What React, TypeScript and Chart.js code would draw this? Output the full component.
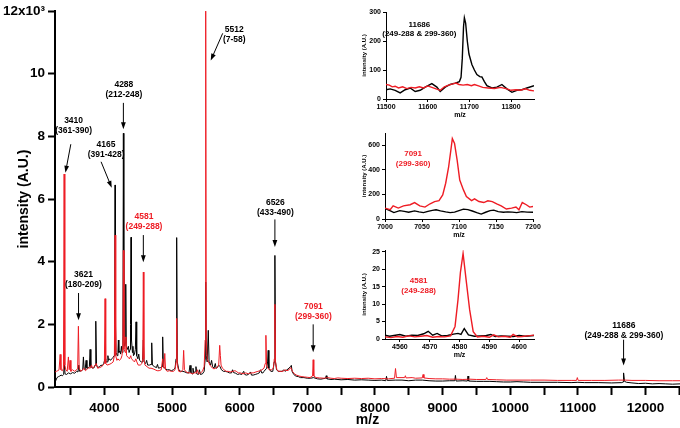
import React, { useEffect, useRef } from 'react';
import { Chart, registerables } from 'chart.js';
Chart.register(...registerables);

const RED = '#ee1c24';
const FONT = '"Liberation Sans", Arial, Helvetica, sans-serif';

// ---------- main spectrum (m/z, intensity x10^3) ----------
const blackTrace: [number, number][] = [
  [3270, 0.15], [3285, 0.22], [3300, 0.3], [3320, 0.33], [3340, 0.35], [3360, 0.38], [3380, 0.36], [3398, 0.4], [3408, 0.8], [3418, 0.42],
  [3440, 0.4], [3470, 0.45], [3500, 0.42], [3530, 0.46], [3560, 0.44], [3590, 0.5], [3610, 0.48], [3622, 0.7], [3634, 0.5], [3660, 0.52],
  [3680, 0.55], [3690, 0.96], [3700, 0.6], [3715, 0.55], [3730, 0.85], [3742, 0.6], [3760, 0.6], [3778, 0.65], [3789, 1.2], [3800, 0.65],
  [3830, 0.6], [3850, 0.62], [3862, 0.7], [3873, 2.1], [3884, 0.7], [3900, 0.62], [3930, 0.65], [3950, 0.7], [3970, 0.68], [3990, 0.75],
  [4010, 0.9], [4020, 0.8], [4040, 0.8], [4052, 1.0], [4060, 0.85], [4075, 0.9], [4090, 0.85], [4110, 0.9], [4130, 0.95], [4145, 1.0], [4152, 2.0],
  [4158, 6.45], [4164, 2.0], [4172, 1.1], [4190, 1.0], [4200, 1.1], [4207, 1.5], [4214, 1.1], [4230, 1.15], [4240, 1.05], [4252, 1.3], [4262, 1.1], [4274, 1.6],
  [4281, 8.1], [4288, 1.6], [4300, 1.3], [4310, 1.4], [4316, 3.28], [4323, 1.3], [4340, 1.2], [4355, 1.3], [4365, 1.1], [4380, 1.2],
  [4386, 2.0], [4394, 4.78], [4401, 1.5], [4415, 1.1], [4422, 1.3], [4430, 1.0], [4445, 1.05], [4458, 1.2], [4468, 2.08], [4478, 1.0], [4495, 0.9],
  [4508, 1.05], [4520, 0.85], [4545, 0.8], [4565, 0.8], [4576, 1.5], [4586, 0.8], [4610, 0.75], [4625, 0.85], [4640, 0.7], [4665, 0.7], [4690, 0.72], [4700, 1.41],
  [4710, 0.7], [4740, 0.65], [4770, 0.62], [4785, 0.72], [4800, 0.6], [4830, 0.62], [4852, 0.65], [4862, 1.6], [4872, 0.65], [4900, 0.58], [4930, 0.55],
  [4960, 0.55], [4990, 0.52], [5020, 0.55], [5045, 0.6], [5060, 0.9], [5069, 4.77], [5078, 0.8], [5100, 0.55], [5130, 0.5], [5160, 0.5],
  [5190, 0.48], [5220, 0.45], [5250, 0.45], [5266, 0.69], [5280, 0.45], [5300, 0.42], [5310, 0.6], [5320, 0.45], [5345, 0.5], [5354, 0.65], [5365, 0.42],
  [5390, 0.4], [5405, 0.55], [5420, 0.4], [5450, 0.42], [5475, 0.5], [5490, 0.9], [5498, 3.35], [5506, 1.0], [5520, 0.8], [5536, 1.81], [5548, 0.8],
  [5570, 0.7], [5585, 0.85], [5600, 0.65], [5620, 0.6], [5640, 0.75], [5652, 0.6], [5670, 0.62], [5690, 0.7], [5710, 0.65], [5730, 0.55], [5760, 0.5],
  [5790, 0.5], [5820, 0.48], [5850, 0.45], [5880, 0.45], [5895, 0.55], [5910, 0.46], [5940, 0.44], [5970, 0.4], [6000, 0.42], [6030, 0.4], [6060, 0.5],
  [6075, 0.4], [6100, 0.38], [6130, 0.4], [6160, 0.48], [6175, 0.38], [6200, 0.38], [6230, 0.4], [6260, 0.42], [6290, 0.45], [6310, 0.55],
  [6325, 0.45], [6345, 0.45], [6360, 0.5], [6400, 0.6], [6413, 0.8], [6422, 1.17], [6432, 0.6], [6460, 0.5], [6490, 0.5], [6510, 0.8],
  [6521, 4.2], [6530, 0.8], [6545, 0.55], [6570, 0.5], [6600, 0.5], [6630, 0.5], [6650, 0.55], [6670, 0.5], [6700, 0.55], [6730, 0.6],
  [6750, 0.65], [6764, 0.69], [6775, 0.5], [6800, 0.4], [6830, 0.35], [6870, 0.33], [6900, 0.3], [6950, 0.3], [7000, 0.28], [7050, 0.28],
  [7091, 0.3], [7150, 0.26], [7200, 0.25], [7270, 0.28], [7280, 0.36], [7290, 0.26], [7350, 0.24], [7400, 0.25], [7500, 0.23], [7600, 0.24],
  [7700, 0.22], [7800, 0.23], [7900, 0.22], [8000, 0.21], [8100, 0.22], [8160, 0.2], [8171, 0.34], [8182, 0.21], [8300, 0.22], [8400, 0.22],
  [8500, 0.2], [8600, 0.22], [8700, 0.22], [8800, 0.2], [8900, 0.19], [9000, 0.19], [9100, 0.2], [9180, 0.2], [9190, 0.37], [9200, 0.19],
  [9300, 0.2], [9366, 0.19], [9376, 0.35], [9386, 0.19], [9500, 0.18], [9600, 0.18], [9700, 0.18], [9800, 0.17], [9900, 0.16], [10000, 0.16],
  [10100, 0.17], [10200, 0.16], [10300, 0.15], [10500, 0.15], [10700, 0.15], [10900, 0.14], [11000, 0.15], [11100, 0.14], [11300, 0.14], [11500, 0.13],
  [11650, 0.14], [11668, 0.16], [11676, 0.45], [11690, 0.18], [11720, 0.15], [11800, 0.13], [11900, 0.11], [12000, 0.12], [12100, 0.1], [12200, 0.11],
  [12300, 0.1], [12400, 0.09], [12510, 0.1],
];

const redTrace: [number, number][] = [
  [3272, 0.48], [3290, 0.5], [3310, 0.52], [3330, 0.55], [3346, 1.04], [3358, 0.55], [3380, 0.52], [3395, 0.6], [3405, 6.8], [3415, 0.7],
  [3430, 0.55], [3450, 0.5], [3468, 0.96], [3480, 0.55], [3493, 0.85], [3505, 0.5], [3530, 0.55], [3560, 0.5], [3590, 0.55], [3605, 0.6],
  [3616, 1.94], [3627, 0.6], [3650, 0.5], [3680, 0.55], [3700, 0.6], [3720, 0.52], [3750, 0.58], [3770, 0.62], [3790, 0.6], [3810, 0.7],
  [3825, 0.6], [3850, 0.65], [3880, 0.75], [3900, 0.6], [3930, 0.62], [3960, 0.65], [3980, 0.7], [4000, 0.75], [4010, 2.82], [4020, 0.75],
  [4040, 0.7], [4070, 0.72], [4100, 0.75], [4130, 0.8], [4148, 1.0], [4158, 4.85], [4168, 1.0], [4185, 0.85], [4200, 0.9], [4220, 0.85],
  [4245, 0.9], [4260, 1.0], [4274, 1.3], [4281, 4.36], [4290, 1.2], [4310, 1.1], [4318, 1.6], [4328, 1.0], [4350, 0.95], [4370, 0.9],
  [4390, 1.0], [4400, 0.9], [4425, 0.85], [4445, 0.8], [4465, 0.9], [4480, 0.8], [4500, 0.7], [4530, 0.7], [4555, 0.75], [4568, 0.9],
  [4576, 3.67], [4584, 0.9], [4600, 0.7], [4630, 0.65], [4660, 0.6], [4690, 0.6], [4720, 0.58], [4750, 0.55], [4780, 0.52], [4810, 0.52],
  [4840, 0.55], [4862, 0.9], [4880, 0.6], [4893, 1.07], [4905, 0.55], [4930, 0.5], [4960, 0.52], [4990, 0.5], [5020, 0.5], [5045, 0.55],
  [5060, 0.8], [5069, 2.19], [5078, 0.7], [5100, 0.5], [5130, 0.48], [5160, 0.55], [5172, 1.17], [5184, 0.55], [5210, 0.48], [5240, 0.45],
  [5270, 0.45], [5300, 0.42], [5330, 0.45], [5360, 0.45], [5375, 0.55], [5390, 0.42], [5420, 0.45], [5450, 0.5], [5475, 0.65], [5490, 1.5], [5498, 12.0],
  [5506, 1.5], [5520, 0.9], [5540, 0.8], [5560, 0.7], [5580, 0.65], [5600, 0.6], [5620, 0.58], [5645, 0.6], [5665, 0.62], [5690, 0.7],
  [5705, 1.33], [5715, 1.0], [5725, 0.7], [5745, 0.6], [5770, 0.55], [5800, 0.5], [5830, 0.5], [5860, 0.48], [5900, 0.5], [5930, 0.52],
  [5950, 0.5], [5980, 0.45], [6010, 0.45], [6050, 0.42], [6090, 0.45], [6130, 0.42], [6170, 0.45], [6200, 0.45], [6240, 0.48], [6270, 0.5],
  [6300, 0.52], [6330, 0.55], [6360, 0.6], [6378, 0.75], [6388, 1.65], [6398, 0.7], [6415, 0.6], [6440, 0.55], [6470, 0.55], [6500, 0.6],
  [6512, 0.9], [6521, 2.64], [6530, 0.8], [6550, 0.55], [6580, 0.5], [6610, 0.5], [6640, 0.5], [6670, 0.55], [6700, 0.52], [6730, 0.55],
  [6755, 0.62], [6780, 0.5], [6810, 0.42], [6840, 0.38], [6880, 0.35], [6920, 0.33], [6960, 0.32], [7000, 0.31], [7040, 0.3], [7078, 0.35],
  [7087, 0.87], [7096, 0.35], [7130, 0.3], [7180, 0.29], [7250, 0.28], [7300, 0.3], [7350, 0.28], [7400, 0.27], [7450, 0.29], [7500, 0.28],
  [7600, 0.27], [7700, 0.28], [7800, 0.27], [7900, 0.28], [8000, 0.26], [8100, 0.27], [8200, 0.26], [8290, 0.28], [8304, 0.59], [8318, 0.3],
  [8400, 0.3], [8440, 0.3], [8450, 0.36], [8460, 0.29], [8550, 0.3], [8600, 0.28], [8700, 0.29], [8712, 0.4], [8724, 0.29], [8800, 0.27],
  [8900, 0.26], [9000, 0.26], [9100, 0.25], [9200, 0.25], [9300, 0.24], [9400, 0.25], [9500, 0.24], [9640, 0.24], [9653, 0.3], [9666, 0.24],
  [9800, 0.23], [9950, 0.22], [10100, 0.22], [10300, 0.22], [10500, 0.22], [10700, 0.21], [10900, 0.21], [10980, 0.21], [10992, 0.3], [11005, 0.21],
  [11200, 0.21], [11400, 0.21], [11600, 0.22], [11700, 0.22], [11800, 0.21], [12000, 0.21], [12200, 0.2], [12400, 0.2], [12510, 0.2],
];

const mainXTicks = [3500, 4000, 4500, 5000, 5500, 6000, 6500, 7000, 7500, 8000, 8500, 9000, 9500, 10000, 10500, 11000, 11500, 12000, 12500];
const mainYTicks = [0, 2, 4, 6, 8, 10, 12];

type Annot = { lines: string[]; color: string; tx: number; ty: number; arrow?: [number, number, number, number] };
const mainAnnots: Annot[] = [
  { lines: ['3410', '(361-390)'], color: '#000', tx: 3545, ty: 8.5, arrow: [3504, 7.75, 3424, 6.84] },
  { lines: ['3621', '(180-209)'], color: '#000', tx: 3690, ty: 3.6, arrow: [3618, 3.0, 3618, 2.13] },
  { lines: ['4165', '(391-428)'], color: '#000', tx: 4025, ty: 7.75, arrow: [3951, 7.19, 4109, 6.36] },
  { lines: ['4288', '(212-248)'], color: '#000', tx: 4288, ty: 9.66, arrow: [4281, 9.07, 4281, 8.23] },
  { lines: ['4581', '(249-288)'], color: RED, tx: 4586, ty: 5.43, arrow: [4576, 4.85, 4576, 3.98] },
  { lines: ['5512', '(7-58)'], color: '#000', tx: 5920, ty: 11.42, arrow: [5749, 11.29, 5572, 10.42] },
  { lines: ['6526', '(433-490)'], color: '#000', tx: 6528, ty: 5.88, arrow: [6521, 5.35, 6521, 4.47] },
  { lines: ['7091', '(299-360)'], color: RED, tx: 7090, ty: 2.58, arrow: [7087, 2.0, 7087, 1.11] },
  { lines: ['11686', '(249-288 & 299-360)'], color: '#000', tx: 11680, ty: 1.97, arrow: [11676, 1.51, 11676, 0.69] },
];

// ---------- inset 1 : 11686 ----------
const inset1Black: [number, number][] = [
  [11500, 32], [11510, 35], [11522, 30], [11534, 21], [11546, 32], [11558, 38], [11570, 26], [11582, 30], [11594, 41], [11610, 53],
  [11622, 41], [11630, 26], [11642, 41], [11654, 50], [11666, 55], [11676, 60], [11680, 75], [11683, 140], [11686, 250], [11688, 280],
  [11691, 262], [11695, 200], [11699, 155], [11706, 119], [11712, 100], [11718, 84], [11725, 77], [11730, 76], [11736, 60], [11742, 46],
  [11754, 38], [11766, 41], [11778, 50], [11790, 35], [11802, 23], [11814, 30], [11826, 32], [11838, 38], [11855, 46],
];
const inset1Red: [number, number][] = [
  [11500, 50], [11508, 48], [11515, 42], [11522, 44], [11530, 38], [11540, 42], [11550, 36], [11560, 40], [11570, 38], [11580, 42],
  [11590, 38], [11600, 45], [11610, 40], [11620, 35], [11630, 30], [11640, 42], [11650, 48], [11660, 52], [11668, 55], [11675, 50],
  [11685, 48], [11695, 50], [11705, 46], [11712, 50], [11722, 45], [11732, 40], [11745, 38], [11760, 36], [11775, 40], [11790, 35],
  [11800, 30], [11812, 32], [11822, 30], [11835, 35], [11845, 30], [11855, 28],
];
const inset1XTicks = [11500, 11600, 11700, 11800];
const inset1YTicks = [0, 100, 200, 300];

// ---------- inset 2 : 7091 ----------
const inset2Red: [number, number][] = [
  [7000, 89], [7007, 75], [7011, 107], [7018, 89], [7025, 107], [7034, 116], [7040, 134], [7047, 107], [7054, 97], [7061, 124],
  [7067, 142], [7073, 150], [7078, 196], [7082, 291], [7086, 425], [7089, 560], [7091, 654], [7094, 614], [7097.5, 479], [7101, 317],
  [7106, 237], [7110, 183], [7117, 150], [7121, 164], [7127, 142], [7133.5, 134], [7139, 148], [7145, 142], [7151, 124], [7157, 107],
  [7164, 81], [7171, 89], [7177, 97], [7181, 75], [7185.5, 134], [7191, 116], [7195.5, 97], [7200, 102],
];
const inset2Black: [number, number][] = [
  [7000, 85], [7006, 70], [7012, 52], [7020, 68], [7026, 62], [7032, 55], [7040, 66], [7046, 58], [7052, 52], [7058, 62],
  [7064, 70], [7069, 75], [7075, 66], [7082, 58], [7088, 52], [7094, 56], [7100, 68], [7106, 80], [7112, 76], [7118, 65],
  [7124, 52], [7130, 40], [7136, 55], [7142, 68], [7147, 72], [7153, 60], [7160, 55], [7166, 58], [7172, 56], [7178, 52],
  [7185, 60], [7192, 56], [7200, 55],
];
const inset2XTicks = [7000, 7050, 7100, 7150, 7200];
const inset2YTicks = [0, 200, 400, 600];

// ---------- inset 3 : 4581 ----------
const inset3Red: [number, number][] = [
  [4555, 0.6], [4557, 0.4], [4559, 0.7], [4561, 0.5], [4563, 0.9], [4565, 0.6], [4567, 0.8], [4569, 1.0], [4571, 0.5], [4573, 0.7],
  [4575, 0.6], [4577, 0.9], [4578.5, 3.6], [4579.5, 11.3], [4580.3, 19], [4581.2, 24.5], [4582.2, 17.1], [4583.4, 8.4], [4584.6, 2.1], [4586, 0.6],
  [4588, 0.8], [4590, 0.5], [4591.5, 1.2], [4593, 0.6], [4595, 0.8], [4597, 0.5], [4598, 1.3], [4599.5, 0.6], [4601, 0.7], [4603, 0.9],
  [4605, 1.1],
];
const inset3Black: [number, number][] = [
  [4555, 1.1], [4556.5, 0.8], [4558, 1.0], [4560, 1.3], [4562, 0.8], [4564, 1.1], [4566, 1.0], [4568, 1.5], [4569.5, 2.2], [4571, 1.1],
  [4572.5, 1.6], [4574, 0.9], [4576, 1.0], [4578, 1.4], [4579.5, 1.6], [4580.5, 1.3], [4581.6, 3.0], [4583, 1.2], [4585, 0.8], [4587, 0.9],
  [4589, 1.0], [4590.5, 1.3], [4592, 0.7], [4594, 0.9], [4596, 0.8], [4598, 0.7], [4600, 1.0], [4602, 0.8], [4605, 1.0],
];
const inset3XTicks = [4560, 4570, 4580, 4590, 4600];
const inset3YTicks = [0, 5, 10, 15, 20, 25];

const toXY = (arr: [number, number][]) => arr.map(([x, y]) => ({ x, y }));

function annotPlugin(items: Annot[], fontSize: number, lineGap: number) {
  return {
    id: 'annots',
    afterDatasetsDraw(chart: any) {
      const { ctx, scales } = chart;
      const xs = scales.x, ys = scales.y;
      ctx.save();
      for (const a of items) {
        const tx = xs.getPixelForValue(a.tx);
        const ty = ys.getPixelForValue(a.ty);
        ctx.fillStyle = a.color;
        ctx.font = `bold ${fontSize}px ${FONT}`;
        ctx.textAlign = 'center';
        ctx.textBaseline = 'middle';
        a.lines.forEach((l, i) => ctx.fillText(l, tx, ty + i * lineGap));
        if (a.arrow) {
          const [x1v, y1v, x2v, y2v] = a.arrow;
          const x1 = xs.getPixelForValue(x1v), y1 = ys.getPixelForValue(y1v);
          const x2 = xs.getPixelForValue(x2v), y2 = ys.getPixelForValue(y2v);
          const ang = Math.atan2(y2 - y1, x2 - x1);
          const L = 7, W = 2.4;
          ctx.strokeStyle = '#000';
          ctx.lineWidth = 1;
          ctx.beginPath();
          ctx.moveTo(x1, y1);
          ctx.lineTo(x2 - Math.cos(ang) * L * 0.8, y2 - Math.sin(ang) * L * 0.8);
          ctx.stroke();
          ctx.fillStyle = '#000';
          ctx.beginPath();
          ctx.moveTo(x2, y2);
          ctx.lineTo(x2 - Math.cos(ang) * L + Math.sin(ang) * W, y2 - Math.sin(ang) * L - Math.cos(ang) * W);
          ctx.lineTo(x2 - Math.cos(ang) * L - Math.sin(ang) * W, y2 - Math.sin(ang) * L + Math.cos(ang) * W);
          ctx.closePath();
          ctx.fill();
        }
      }
      ctx.restore();
    },
  };
}

function MainChart() {
  const ref = useRef<HTMLCanvasElement>(null);
  useEffect(() => {
    const chart = new Chart(ref.current!, {
      type: 'line',
      data: {
        datasets: [
          { data: toXY(redTrace), borderColor: RED, borderWidth: 1, pointRadius: 0, tension: 0, order: 0 } as any,
          { data: toXY(blackTrace), borderColor: '#000', borderWidth: 1, pointRadius: 0, tension: 0, order: 1 } as any,
        ],
      },
      options: {
        animation: false,
        responsive: false,
        maintainAspectRatio: false,
        layout: { padding: { top: 10, right: 0, left: 0, bottom: 0 } },
        plugins: { legend: { display: false }, tooltip: { enabled: false } },
        scales: {
          x: {
            type: 'linear', min: 3270, max: 12510,
            afterBuildTicks: (s: any) => { s.ticks = mainXTicks.map((v) => ({ value: v })); },
            afterFit: (s: any) => { s.height = 41; },
            ticks: {
              callback: (v: any) => (v % 1000 === 0 ? String(v) : ''),
              font: { family: FONT, size: 13.5, weight: 'bold', lineHeight: 2.0 }, color: '#000', padding: 0, maxRotation: 0, autoSkip: false,
            },
            grid: { drawOnChartArea: false, tickLength: 8, tickWidth: 2, tickColor: '#000' },
            border: { color: '#000', width: 2 },
            title: { display: true, text: 'm/z', font: { family: FONT, size: 14, weight: 'bold' }, color: '#000', padding: { top: 0, bottom: -1 } },
          },
          y: {
            type: 'linear', min: 0, max: 12,
            afterBuildTicks: (s: any) => { s.ticks = mainYTicks.map((v) => ({ value: v })); },
            afterFit: (s: any) => { s.width = 55; },
            ticks: {
              callback: (v: any) => (v === 12 ? '12x10\u00b3' : String(v)),
              font: { family: FONT, size: 13.5, weight: 'bold' }, color: '#000', padding: 3,
            },
            grid: { drawOnChartArea: false, tickLength: 7, tickWidth: 2, tickColor: '#000' },
            border: { color: '#000', width: 2 },
            title: { display: true, text: 'intensity (A.U.)', font: { family: FONT, size: 14, weight: 'bold' }, color: '#000', padding: { top: 16, bottom: 0 } },
          },
        },
      } as any,
      plugins: [annotPlugin(mainAnnots, 8.5, 10) as any],
    });
    return () => chart.destroy();
  }, []);
  return <canvas ref={ref} width={680} height={428} style={{ position: 'absolute', left: 0, top: 0, width: 680, height: 428 }} />;
}

type InsetProps = {
  left: number; top: number; width: number; height: number;
  padTop: number; padRight: number; yWidth: number;
  xMin: number; xMax: number; yMin: number; yMax: number;
  xTicks: number[]; yTicks: number[];
  red: [number, number][]; black: [number, number][];
  annots: Annot[];
};

function Inset(p: InsetProps) {
  const ref = useRef<HTMLCanvasElement>(null);
  useEffect(() => {
    const tickFont = { family: FONT, size: 7, weight: 'bold' };
    const chart = new Chart(ref.current!, {
      type: 'line',
      data: {
        datasets: [
          { data: toXY(p.red), borderColor: RED, borderWidth: 1.4, pointRadius: 0, tension: 0, order: 0 } as any,
          { data: toXY(p.black), borderColor: '#000', borderWidth: 1.4, pointRadius: 0, tension: 0, order: 1 } as any,
        ],
      },
      options: {
        animation: false,
        responsive: false,
        maintainAspectRatio: false,
        layout: { padding: { top: p.padTop, right: p.padRight, left: 0, bottom: 0 } },
        plugins: { legend: { display: false }, tooltip: { enabled: false } },
        scales: {
          x: {
            type: 'linear', min: p.xMin, max: p.xMax,
            afterBuildTicks: (s: any) => { s.ticks = p.xTicks.map((v) => ({ value: v })); },
            afterFit: (s: any) => { s.height = 25; },
            ticks: { callback: (v: any) => String(v), font: tickFont, color: '#000', padding: 1, maxRotation: 0, autoSkip: false },
            grid: { drawOnChartArea: false, tickLength: 3, tickWidth: 1, tickColor: '#000' },
            border: { color: '#000', width: 1 },
            title: { display: true, text: 'm/z', font: { family: FONT, size: 7, weight: 'bold' }, color: '#000', padding: { top: 0, bottom: 5 } },
          },
          y: {
            type: 'linear', min: p.yMin, max: p.yMax,
            afterBuildTicks: (s: any) => { s.ticks = p.yTicks.map((v) => ({ value: v })); },
            afterFit: (s: any) => { s.width = p.yWidth; },
            ticks: { callback: (v: any) => String(v), font: tickFont, color: '#000', padding: 2 },
            grid: { drawOnChartArea: false, tickLength: 3, tickWidth: 1, tickColor: '#000' },
            border: { color: '#000', width: 1 },
            title: { display: true, text: 'intensity (A.U.)', font: { family: FONT, size: 6, weight: 'bold' }, color: '#000', padding: { top: 16, bottom: 0 } },
          },
        },
      } as any,
      plugins: [annotPlugin(p.annots, 8, 9.5) as any],
    });
    return () => chart.destroy();
  }, []);
  return (
    <canvas ref={ref} width={p.width} height={p.height}
      style={{ position: 'absolute', left: p.left, top: p.top, width: p.width, height: p.height }} />
  );
}

export default function App() {
  return (
    <div style={{ position: 'absolute', left: 0, top: 0, width: 680, height: 428, background: '#fff', overflow: 'hidden' }}>
      <MainChart />
      <Inset left={345} top={4} width={205} height={120} padTop={8} padRight={16} yWidth={41}
        xMin={11500} xMax={11855} yMin={0} yMax={300} xTicks={inset1XTicks} yTicks={inset1YTicks}
        red={inset1Red} black={inset1Black}
        annots={[{ lines: ['11686', '(249-288 & 299-360)'], color: '#000', tx: 11580, ty: 257 }]} />
      <Inset left={345} top={124} width={205} height={120} padTop={9} padRight={17} yWidth={40}
        xMin={7000} xMax={7200} yMin={0} yMax={700} xTicks={inset2XTicks} yTicks={inset2YTicks}
        red={inset2Red} black={inset2Black}
        annots={[{ lines: ['7091', '(299-360)'], color: RED, tx: 7038, ty: 527 }]} />
      <Inset left={345} top={242} width={205} height={122} padTop={8} padRight={16} yWidth={40}
        xMin={4555} xMax={4605} yMin={0} yMax={25.5} xTicks={inset3XTicks} yTicks={inset3YTicks}
        red={inset3Red} black={inset3Black}
        annots={[{ lines: ['4581', '(249-288)'], color: RED, tx: 4566.3, ty: 16.6 }]} />
    </div>
  );
}
